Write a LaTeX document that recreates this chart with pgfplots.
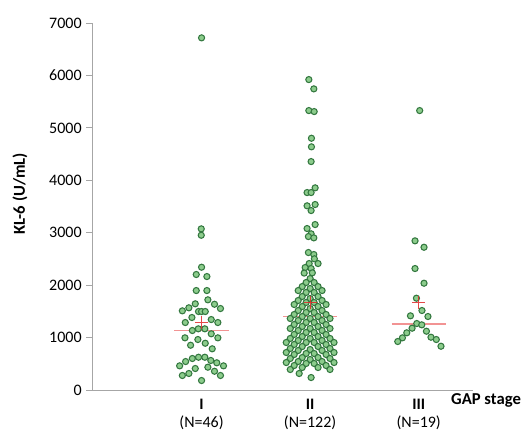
\documentclass[border=0pt]{standalone}
\usepackage{fontspec}
\setmainfont{Carlito}
\usepackage{pgfplots}
\pgfplotsset{compat=1.18}
\definecolor{dotfill}{RGB}{140,204,140}
\definecolor{dotedge}{RGB}{52,120,64}
\definecolor{axgray}{RGB}{166,166,166}
\definecolor{medline}{RGB}{240,128,128}
\definecolor{meanred}{RGB}{225,40,40}
\begin{document}
\begin{tikzpicture}
\path[use as bounding box] (-69.75pt,-30pt) rectangle (324pt,292.5pt);
\begin{axis}[
  at={(0,0)}, anchor=south west,
  scale only axis, width=285pt, height=275.25pt,
  xmin=0, xmax=3.5, ymin=0, ymax=7000,
  axis lines=left, axis line style={axgray, line width=0.75pt, -},
  clip=false,
  xtick={1,2,3}, xticklabels={\textbf{I},\textbf{II},\textbf{III}},
  xtick style={draw=none},
  xticklabel style={yshift=2pt},
  ytick={0,1000,...,7000},
  ytick style={axgray, line width=0.75pt},
  tick align=outside, major tick length=5pt,
  yticklabel style={/pgf/number format/1000 sep={}},
  /pgf/number format/assume math mode=true,
  ticklabel style={font=\fontsize{12}{14}\selectfont},
  ylabel={\textbf{KL-6 (U/mL)}},
  ylabel style={at={(axis description cs:-0.192,0.535)}, anchor=center, font=\fontsize{12.5}{14}\selectfont},
  dots/.style={only marks, mark=*, mark size=2.3pt, mark options={fill=dotfill, draw=dotedge, line width=0.8pt}},
]
% Group I
\addplot[dots] table {
x y
1.000 6717
0.997 3074
0.997 2952
1.000 2342
0.951 2203
1.049 2164
0.951 1897
1.049 1897
1.058 1720
0.942 1644
1.119 1636
0.883 1568
1.174 1554
0.823 1510
0.972 1497
1.000 1497
1.034 1497
0.911 1383
1.089 1344
0.850 1287
1.150 1287
0.915 1135
0.970 1167
1.030 1167
1.089 1072
0.847 995
1.150 995
0.966 963
1.034 892
0.899 854
1.098 786
0.915 601
0.972 625
1.030 625
1.085 563
0.853 543
1.140 519
0.798 461
1.202 461
0.942 410
1.058 435
0.883 315
1.119 358
0.823 277
1.174 277
1.000 181
};
% Group II
\addplot[dots] table {
x y
1.988 5921
2.034 5744
1.988 5330
2.037 5311
2.012 4802
2.012 4638
2.009 4357
2.046 3856
1.972 3766
2.009 3766
2.046 3538
1.972 3513
2.009 3423
2.046 3156
1.972 3080
2.009 2979
1.984 2927
2.034 2902
1.984 2622
2.034 2584
2.039 2502
1.991 2412
2.073 2412
1.954 2336
2.009 2317
2.020 2235
1.945 2230
2.000 2126
1.963 2050
2.037 2050
1.927 1973
2.073 1973
1.890 1897
2.110 1897
2.000 1936
1.963 1860
2.037 1860
1.927 1783
2.073 1783
1.890 1707
2.110 1707
1.853 1631
2.147 1631
2.000 1745
1.963 1669
2.037 1669
1.927 1592
2.073 1592
1.890 1516
2.110 1516
1.853 1440
2.147 1440
1.817 1364
2.183 1364
2.000 1554
1.963 1478
2.037 1478
1.927 1401
2.073 1401
1.890 1325
2.110 1325
1.853 1249
2.147 1249
1.817 1173
2.183 1173
2.000 1364
1.963 1288
2.037 1288
1.927 1211
2.073 1211
1.890 1135
2.110 1135
1.853 1059
2.147 1059
1.817 983
2.183 983
1.780 906
2.220 906
2.000 1173
1.963 1097
2.037 1097
1.927 1020
2.073 1020
1.890 944
2.110 944
1.853 868
2.147 868
1.817 792
2.183 792
1.780 715
2.220 715
2.000 982
1.963 906
2.037 906
1.927 829
2.073 829
1.890 753
2.110 753
1.853 677
2.147 677
1.817 601
2.183 601
1.780 524
2.220 524
2.000 772
1.963 696
2.037 696
1.927 619
2.073 619
1.890 543
2.110 543
1.853 467
2.147 467
1.817 391
2.183 391
2.000 582
1.963 506
2.037 506
1.927 429
2.073 429
1.899 315
2.009 238
};
% Group III
\addplot[dots] table {
x y
3.009 5330
2.966 2845
3.049 2723
2.966 2317
3.049 2037
2.979 1751
3.030 1516
2.924 1415
3.085 1402
2.982 1268
3.028 1243
2.939 1179
3.071 1121
2.890 1091
3.113 1007
2.850 995
3.162 963
2.807 925
3.205 835
};
% medians
\addplot[medline, line width=1pt, opacity=0.85] coordinates {(0.75,1140) (1.25,1140)};
\addplot[medline, line width=1pt, opacity=0.85] coordinates {(1.75,1400) (2.25,1400)};
\addplot[medline, line width=1pt, opacity=0.85] coordinates {(2.75,1262) (3.25,1262)};
% means
\addplot[only marks, mark=+, mark size=4.9pt, meanred, line width=0.9pt, opacity=0.85] coordinates {(1,1287) (2,1675) (3,1675)};
\node[anchor=base, font=\fontsize{12}{14}\selectfont] at ([yshift=-27.75pt]axis cs:1,0) {(N=46)};
\node[anchor=base, font=\fontsize{12}{14}\selectfont] at ([yshift=-27.75pt]axis cs:2,0) {(N=122)};
\node[anchor=base, font=\fontsize{12}{14}\selectfont] at ([yshift=-27.75pt]axis cs:3,0) {(N=19)};
\node[anchor=base, font=\bfseries\fontsize{12.5}{14}\selectfont] at ([yshift=-10.9pt]axis cs:3.62,0) {GAP stage};
\end{axis}
\end{tikzpicture}
\end{document}
